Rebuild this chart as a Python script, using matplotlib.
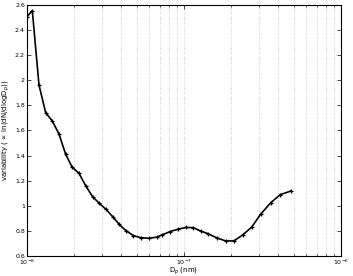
import numpy as np
import matplotlib
matplotlib.use("Agg")
import matplotlib.pyplot as plt
from matplotlib.ticker import LogLocator, FixedLocator, NullFormatter

# particle diameter (m) and variability
diameter = [1.0e-8, 1.081e-8, 1.192e-8, 1.315e-8, 1.449e-8, 1.599e-8, 1.764e-8,
            1.943e-8, 2.144e-8, 2.365e-8, 2.621e-8, 2.887e-8, 3.185e-8, 3.530e-8,
            3.872e-8, 4.272e-8, 4.753e-8, 5.300e-8, 6.012e-8, 6.700e-8, 7.295e-8,
            8.143e-8, 9.197e-8, 1.030e-7, 1.146e-7, 1.278e-7, 1.428e-7, 1.615e-7,
            1.844e-7, 2.083e-7, 2.365e-7, 2.699e-7, 3.080e-7, 3.580e-7, 4.105e-7,
            4.802e-7]
variability = [2.507, 2.555, 1.963, 1.742, 1.676, 1.572, 1.410, 1.306, 1.259,
               1.160, 1.072, 1.020, 0.972, 0.911, 0.851, 0.802, 0.763, 0.746,
               0.741, 0.750, 0.769, 0.794, 0.814, 0.827, 0.826, 0.799, 0.777,
               0.745, 0.720, 0.720, 0.767, 0.829, 0.932, 1.025, 1.088, 1.118]

yticks = [0.6, 0.8, 1.0, 1.2, 1.4, 1.6, 1.8, 2.0, 2.2, 2.4, 2.6]
ytick_labels = ["0.6", "0.8", "1", "1.2", "1.4", "1.6", "1.8", "2", "2.2", "2.4", "2.6"]

fig = plt.figure(figsize=(3.53, 2.76), dpi=100)
ax = fig.add_axes([0.0765, 0.0725, 0.889, 0.9095])

ax.plot(diameter, variability, color="black", lw=1.2, marker="+",
        markersize=3.5, markeredgewidth=0.9)

ax.set_xscale("log")
ax.set_xlim(1e-8, 1e-6)
ax.set_ylim(0.6, 2.6)
ax.yaxis.set_major_locator(FixedLocator(yticks))
ax.set_yticklabels(ytick_labels)
ax.xaxis.set_major_locator(LogLocator(base=10))
ax.xaxis.set_minor_locator(LogLocator(base=10, subs=np.arange(2, 10)))
ax.xaxis.set_minor_formatter(NullFormatter())

ax.grid(True, which="both", axis="x", color="#bbbbbb", linestyle=(0, (1, 2)), lw=0.6)
ax.tick_params(which="both", direction="in", top=True, right=True,
               labelsize=4.5, colors="black", pad=1.5)
ax.tick_params(which="major", length=3, width=0.5)
ax.tick_params(which="minor", length=1.5, width=0.5)
for sp in ax.spines.values():
    sp.set_linewidth(0.8)

ax.set_xlabel(r"D$_p$ (nm)", fontsize=5, labelpad=0)
ax.set_ylabel(r"variability ($\propto$ ln(dN/dlogD$_p$))", fontsize=5, labelpad=2)
ax.xaxis.set_label_coords(0.5, -0.04)

fig.savefig("out.png", dpi=100)
